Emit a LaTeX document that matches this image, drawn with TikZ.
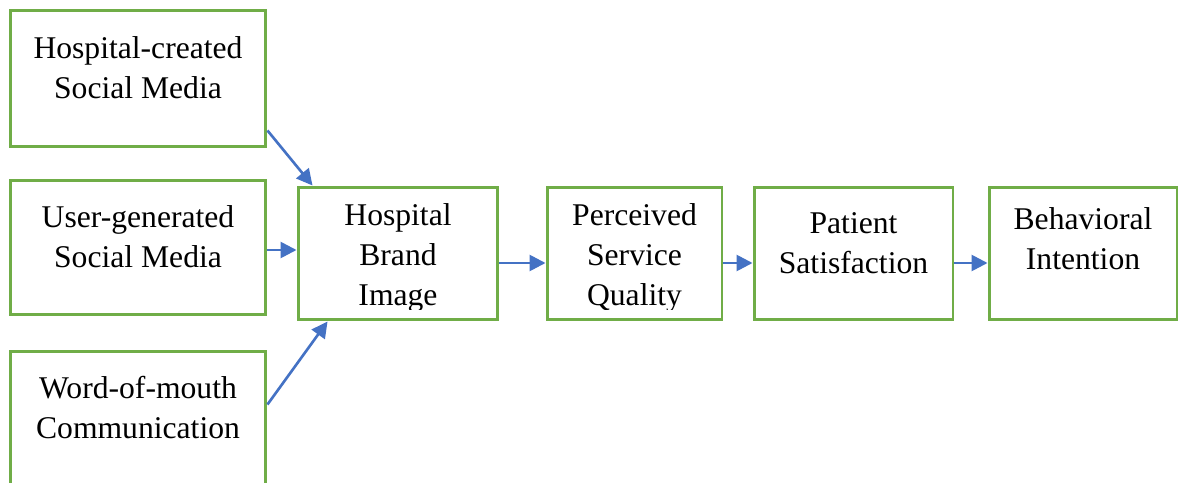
\documentclass[tikz,border=0pt]{standalone}
\usepackage{fontspec}
\setmainfont{Liberation Serif}
\usepackage{xcolor}
\usepackage{tikz}
\usetikzlibrary{arrows.meta}
\definecolor{rahmen}{HTML}{70AD47}
\definecolor{pfeil}{HTML}{4472C4}

\tikzset{
  block/.style={draw=rahmen, line width=1.7pt, inner sep=0pt, fill=white},
  txt/.style={align=center, anchor=base, inner sep=0pt, font=\fontsize{18}{22.8}\selectfont},
  link/.style={draw=pfeil, line width=1.5pt, -{Triangle[length=0.32cm,width=0.32cm]}}
}

\begin{document}
\begin{tikzpicture}[x=0.02cm, y=-0.02cm]
\useasboundingbox (0,0) rectangle (1179,483);

% linke Spalte
\node[block, minimum width=5.12cm, minimum height=2.74cm] (hcsm) at (138,78.5) {};
\node[block, minimum width=5.12cm, minimum height=2.70cm] (ugsm) at (138,247.5) {};
\node[block, minimum width=5.12cm, minimum height=2.96cm] (womc) at (138,425) {};
% base = Grundlinie der letzten Zeile
\node[txt] (hcsmtxt) at ([yshift=-1.80cm]hcsm.north) {Hospital-created\\Social Media};
\node[txt] (ugsmtxt) at ([yshift=-1.78cm]ugsm.north) {User-generated\\Social Media};
\node[txt] (womctxt) at ([yshift=-1.78cm]womc.north) {Word-of-mouth\\Communication};

% Kette
\node[block, minimum width=4.00cm, minimum height=2.66cm] (hbi) at (398,253.5) {};
\node[block, minimum width=3.50cm, minimum height=2.66cm] (psq) at (634.5,253.5) {};
\node[block, minimum width=3.98cm, minimum height=2.66cm] (ps)  at (853.5,253.5) {};
\node[block, minimum width=3.76cm, minimum height=2.66cm] (bi)  at (1083,253.5) {};

\begin{scope}
\clip (hbi.north west) rectangle ([yshift=0.24cm]hbi.south east);
\node[txt] (hbitxt) at ([yshift=-2.40cm]hbi.north) {Hospital\\Brand\\Image};
\end{scope}
\begin{scope}
\clip (psq.north west) rectangle ([yshift=0.24cm]psq.south east);
\node[txt] (psqtxt) at ([yshift=-2.40cm]psq.north) {Perceived\\Service\\Quality};
\end{scope}
\node[txt] (pstxt) at ([yshift=-1.76cm]ps.north) {Patient\\Satisfaction};
\node[txt] (bitxt) at ([yshift=-1.68cm]bi.north) {Behavioral\\Intention};

% Pfeile
\draw[link] ([yshift=0.36cm]hcsm.south east) -- ([xshift=0.32cm]hbi.north west);
\draw[link] ([yshift=-0.05cm]ugsm.east) -- ([yshift=-0.05cm]ugsm.east -| hbi.west);
\draw[link] ([yshift=-1.1cm]womc.north east) -- ([xshift=0.62cm]hbi.south west);
\draw[link] ([yshift=-0.19cm]hbi.east) -- ([yshift=-0.19cm]psq.west);
\draw[link] ([yshift=-0.19cm]psq.east) -- ([yshift=-0.19cm]ps.west);
\draw[link] ([yshift=-0.19cm]ps.east) -- ([yshift=-0.19cm]bi.west);
\end{tikzpicture}
\end{document}
